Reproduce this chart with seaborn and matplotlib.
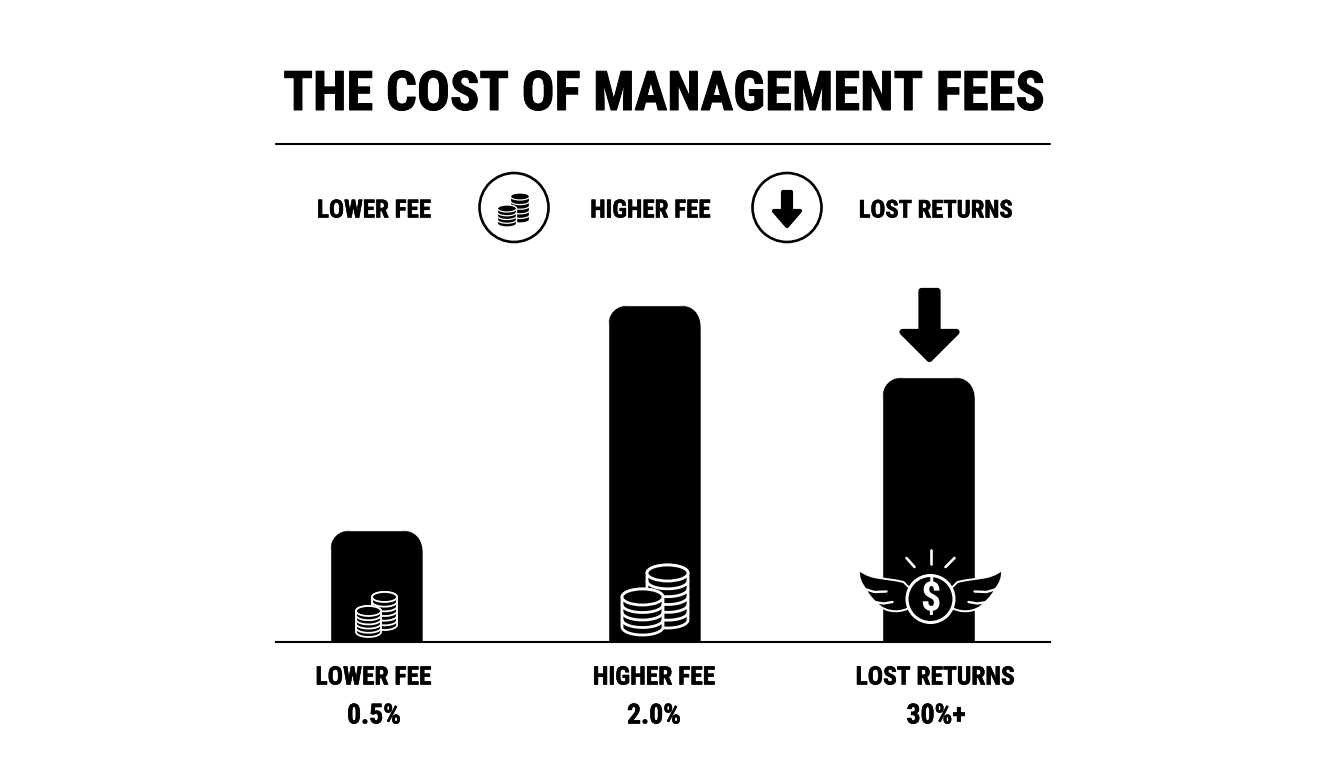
import numpy as np
import pandas as pd
import matplotlib
matplotlib.use("Agg")
import matplotlib.pyplot as plt
import matplotlib.patheffects as pe
from matplotlib.patches import Circle, Ellipse, FancyBboxPatch, PathPatch, Polygon
from matplotlib.path import Path
import seaborn as sns

# ── data ───────────────────────────────────────────────
categories = ["LOWER FEE", "HIGHER FEE", "LOST RETURNS"]
value_labels = ["0.5%", "2.0%", "30%+"]
bar_heights = [112, 337, 265]  # no scale on the chart, read off in pixels
title = "THE COST OF MANAGEMENT FEES"

sns.set_theme(style="white")
plt.rcParams["font.family"] = ["Roboto Condensed", "Liberation Sans", "DejaVu Sans"]

W, H = 1344, 768
BASE_Y = 642
fig = plt.figure(figsize=(W / 100, H / 100), dpi=100, facecolor="white")

# bar axes: x 276-1050 px, baseline at y=642
ax = fig.add_axes([276 / W, 1 - BASE_Y / H, 774 / W, 372 / H])
df = pd.DataFrame({"category": categories, "height": bar_heights})
sns.barplot(data=df, x="category", y="height", color="black", saturation=1,
            width=93 / 276, ax=ax)
ax.set_xlim(-101 / 276, 673 / 276)
ax.set_ylim(0, 372)
ax.set_xlabel("")
ax.set_ylabel("")
ax.set_xticks([])
ax.set_yticks([])
for s in ["top", "left", "right"]:
    ax.spines[s].set_visible(False)
ax.spines["bottom"].set_color("black")
ax.spines["bottom"].set_linewidth(1.5)
ax.patch.set_alpha(0)

# overlay in pixel coords for the icons and labels
px = fig.add_axes([0, 0, 1, 1], zorder=5)
px.set_xlim(0, W)
px.set_ylim(H, 0)
px.axis("off")
px.patch.set_alpha(0)

# round the bar tops by clipping the seaborn bars
nudge = [-0.7 / 276, 1.3 / 276, -0.5 / 276]
to_px = ax.transData + px.transData.inverted()
R = 24
for bar, dx in zip(ax.patches, nudge):
    bar.set_x(bar.get_x() + dx)
    (x0, y0), (x1, y1) = to_px.transform([(bar.get_x(), bar.get_height()),
                                          (bar.get_x() + bar.get_width(), 0)])
    clip = FancyBboxPatch((x0 + R, y0 + R), x1 - x0 - 2 * R, y1 - y0,
                          boxstyle=f"round,pad={R},rounding_size={R}",
                          transform=px.transData, fc="none", ec="none")
    bar.set_clip_path(clip)


def bold_text(x, y, s, size, stroke=0.4):
    px.text(x, y, s, ha="center", va="center_baseline", fontsize=size, fontweight="bold",
            color="black", path_effects=[pe.withStroke(linewidth=stroke, foreground="black")])


def coin_stack(cx, top, bottom, rx, ry, bands, fill, line, lw):
    t = np.linspace(0, np.pi, 40)
    xs = np.r_[cx + rx * np.cos(t), cx - rx * np.cos(t)]
    ys = np.r_[bottom - ry + ry * np.sin(t), top + ry - ry * np.sin(t)]
    px.add_patch(Polygon(np.c_[xs, ys], closed=True, fc=fill, ec=line, lw=lw, zorder=3))
    px.add_patch(Ellipse((cx, top + ry), 2 * rx, 2 * ry, fc=fill, ec=line, lw=lw, zorder=3))
    step = (bottom - ry - (top + ry)) / bands
    for i in range(1, bands):
        y0 = top + ry + i * step
        px.plot(cx + rx * np.cos(t), y0 + ry * np.sin(t), color=line, lw=lw, zorder=3)


def down_arrow(cx, top, bottom, head_top, shaft, head, lw):
    pts = [(cx - shaft / 2, top), (cx + shaft / 2, top), (cx + shaft / 2, head_top),
           (cx + head / 2, head_top), (cx, bottom), (cx - head / 2, head_top),
           (cx - shaft / 2, head_top)]
    px.add_patch(Polygon(pts, closed=True, fc="black", ec="black", lw=lw, joinstyle="round"))


# title and rule
px.plot([276, 1050], [144, 144], color="black", lw=1.5)
bold_text(664.5, 89.5, title, 39.3, stroke=0.7)

# legend row
for x, label, size in zip([374, 650.5, 935.5], categories, [18, 18, 17.7]):
    bold_text(x, 208, label, size)
for x in [514, 787]:
    px.add_patch(Circle((x, 207.5), 34.5, fc="none", ec="black", lw=1.9))
coin_stack(520, 193, 223, 9.5, 3.5, 5, "black", "white", 0.9)
coin_stack(507, 205, 227, 9.5, 3.5, 4, "black", "white", 0.9)
down_arrow(787, 192, 226, 211, 8, 26, 3)

# coins in the first two bars
coin_stack(384.5, 592, 630, 12.5, 5, 6, "black", "white", 1.3)
coin_stack(368.5, 606, 637, 12.5, 5, 5, "black", "white", 1.3)
coin_stack(667.5, 565, 628, 20.5, 8, 6, "black", "white", 2.0)
coin_stack(642.5, 589, 635, 20.5, 8, 4, "black", "white", 2.0)

# arrow above the last bar
down_arrow(929.5, 291, 359, 332, 16, 54, 4.5)

# winged dollar coin
cx, cy = 930.5, 595
for sign in [-1, 1]:
    verts = [(-71.5, -25), (-58, -15), (-48, -18), (-27, -13),
             (-20, -6), (-20, 6), (-20, 12),
             (-27, 17), (-44, 20), (-55, 7),
             (-60, 3), (-65, -5), (-65, -6),
             (-70, -12), (-72, -18), (-71.5, -25)]
    codes = [Path.MOVETO, Path.CURVE4, Path.CURVE4, Path.CURVE4,
             Path.LINETO, Path.LINETO, Path.LINETO,
             Path.CURVE4, Path.CURVE4, Path.CURVE4,
             Path.CURVE4, Path.CURVE4, Path.CURVE4,
             Path.CURVE4, Path.CURVE4, Path.CURVE4]
    v = np.array(verts, dtype=float)
    v[:, 0] = cx - sign * v[:, 0]
    v[:, 1] = cy + v[:, 1]
    px.add_patch(PathPatch(Path(v, codes), fc="black", ec="white", lw=1.4, zorder=3))
    px.plot(cx + sign * np.array([66, 56, 44]), cy + np.array([-6, -3, -3.5]),
            color="white", lw=1.7, zorder=4, solid_capstyle="round")
    px.plot(cx + sign * np.array([56, 47, 38]), cy + np.array([7, 8.5, 7]),
            color="white", lw=1.7, zorder=4, solid_capstyle="round")
px.add_patch(Circle((cx, cy + 4), 23.5, fc="black", ec="white", lw=2.2, zorder=4))
px.text(cx, cy + 5, "$", ha="center", va="center", fontsize=29, fontweight="bold",
        color="white", zorder=5)
for (x0, y0, x1, y1) in [(0, -45, 0, -31), (-24, -37, -16, -28), (24, -37, 15, -28)]:
    px.plot([cx + x0, cx + x1], [cy + y0, cy + y1], color="white", lw=1.9, zorder=4,
            solid_capstyle="round")

# labels under the axis
for x, label in zip([373.5, 654, 935], categories):
    bold_text(x, 675, label, 18.3)
for x, label in zip([374, 654, 936], value_labels):
    bold_text(x, 713, label, 20)

fig.savefig("out.png", dpi=100, facecolor="white")
